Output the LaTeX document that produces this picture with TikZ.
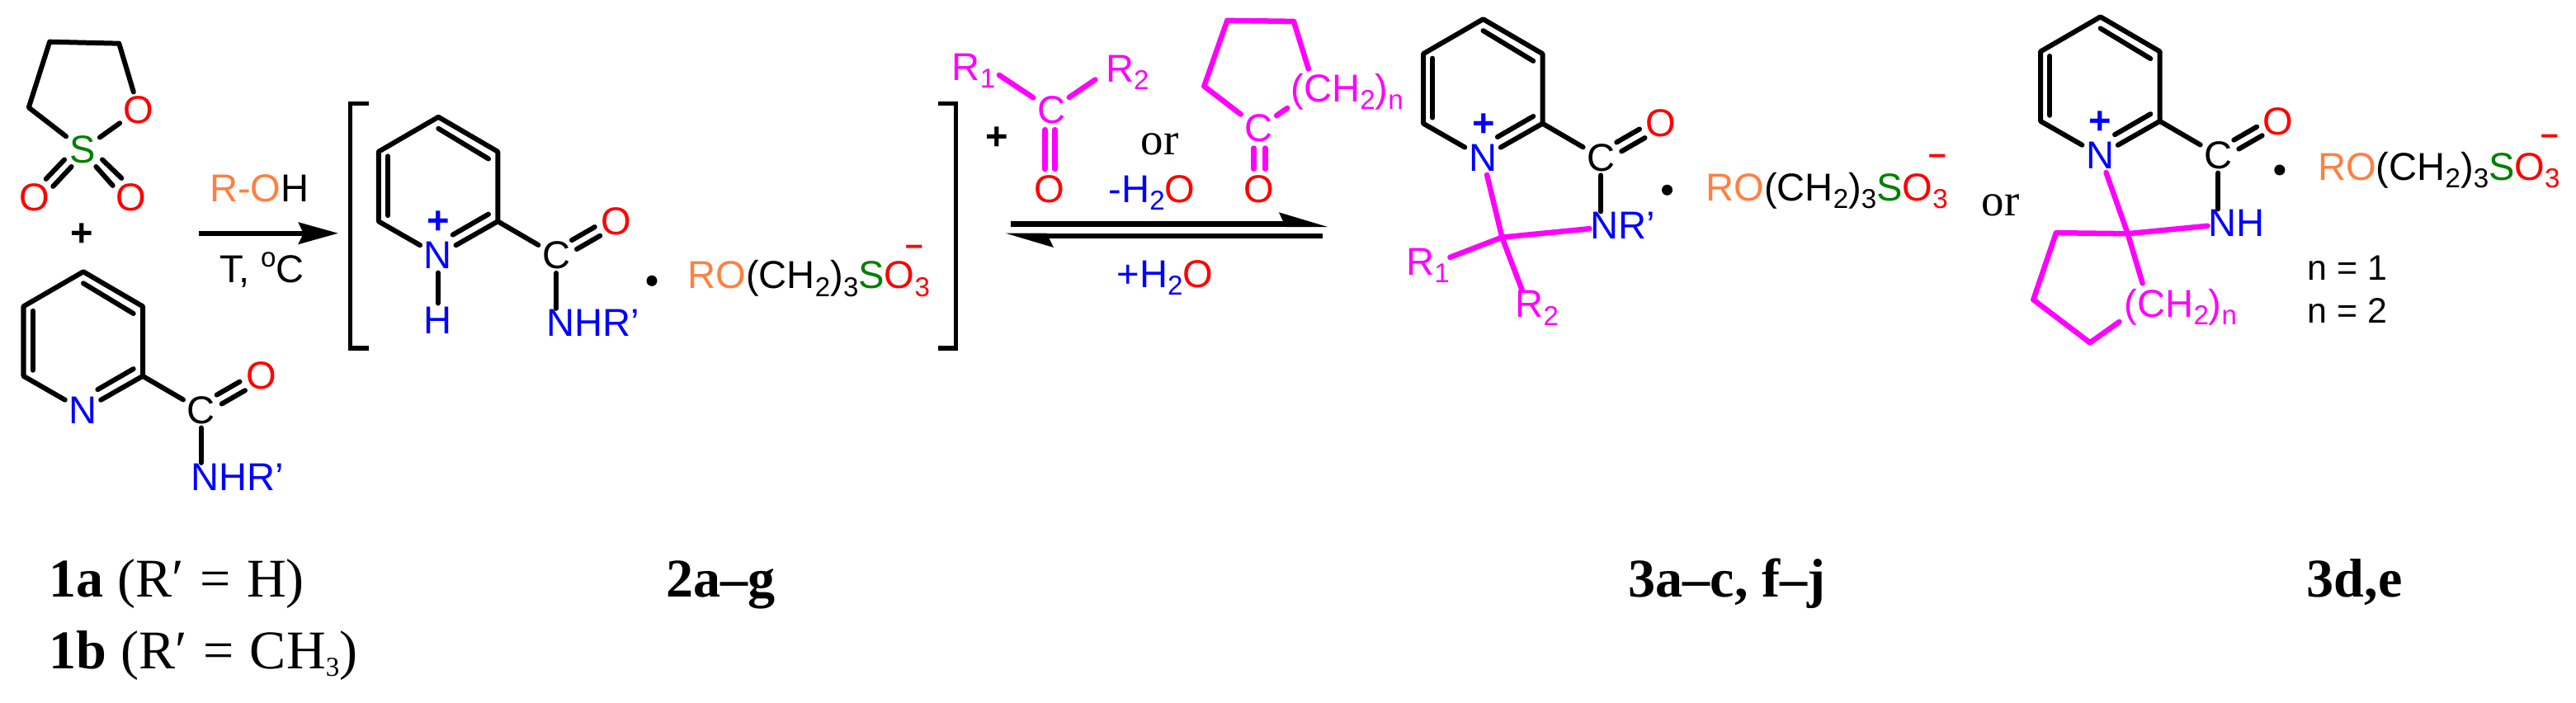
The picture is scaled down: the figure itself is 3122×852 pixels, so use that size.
\documentclass[tikz,border=0pt]{standalone}
\usepackage{fontspec}
\setmainfont{Liberation Sans}
\newfontfamily\capfont{Liberation Serif}
\usetikzlibrary{arrows.meta}
\definecolor{rorange}{RGB}{255,128,64}
\definecolor{sgreen}{RGB}{0,128,0}
\definecolor{rmagenta}{RGB}{255,0,255}
\definecolor{nblue}{RGB}{0,0,255}
\definecolor{ored}{RGB}{255,0,0}
\newcommand{\lowidx}[1]{\raisebox{-.09cm}{\fontsize{9.4}{10}\selectfont #1}}
\newcommand{\atomsize}{\fontsize{13.4}{16}\selectfont}
\newcommand{\anion}{\textcolor{rorange}{RO}(CH\lowidx{2})\lowidx{3}\textcolor{sgreen}{S}\textcolor{ored}{O\lowidx{3}}}
\tikzset{
	atom/.style={inner sep=.04cm},
	label/.style={inner sep=0pt, anchor=base west},
	bond/.style={line width=.06cm, line cap=round, line join=round},
	rbond/.style={bond, rmagenta, line width=.065cm},
	charge/.style={inner sep=0pt, font=\atomsize\bfseries},
	minus/.style={inner sep=0pt, ored, font=\fontsize{11}{12}\selectfont\bfseries},
	saltdot/.style={circle, fill, inner sep=0pt, minimum size=.13cm},
	sname/.style={inner sep=0pt, anchor=base west, font=\capfont\fontsize{18.8}{20}\selectfont},
	orword/.style={inner sep=0pt, anchor=base, font=\capfont\fontsize{15.6}{18}\selectfont},
	brack/.style={line width=.055cm},
	pics/pyamide/.style={code={
		\coordinate (-t) at (0,0);
		\coordinate (-ur) at (72,42);
		\coordinate (-lr) at (72,126.5);
		\coordinate (-ll) at (-72.5,126.5);
		\coordinate (-ul) at (-72.5,42);
		\node[atom, nblue] (-n) at (-.5,167.8) {N};
		\node[atom] (-c) at (142.8,167.8) {C};
		\node[atom, ored] (-o) at (215.4,126.4) {O};
		\coordinate (-a1) at (0,14);
		\coordinate (-b1) at (60.7,50.7);
		\coordinate (-a2) at (-61.2,47.5);
		\coordinate (-b2) at (-61.2,119.4);
		\coordinate (-a3) at (17.4,142.8);
		\coordinate (-b3) at (60.7,117.8);
		\coordinate (-o1) at (161.7,149.3);
		\coordinate (-o2) at (189.5,133.3);
		\coordinate (-o3) at (167.7,160.2);
		\coordinate (-o4) at (196,143.9);
		\draw[bond] (-n) -- (-ll) -- (-ul) -- (-t) -- (-ur) -- (-lr) -- (-n);
		\draw[bond] (-lr) -- (-c);
		\draw[bond] (-a1) -- (-b1);
		\draw[bond] (-a2) -- (-b2);
		\draw[bond] (-a3) -- (-b3);
		\draw[bond] (-o1) -- (-o2);
		\draw[bond] (-o3) -- (-o4);
	}}
}
\begin{document}
\begin{tikzpicture}[x=.01cm, y=-.01cm, font=\atomsize]
	\useasboundingbox (0,0) rectangle (3122,852);
	% sultone
	\coordinate (s1) at (60.2,50.7);
	\coordinate (s2) at (144.3,52.7);
	\coordinate (s3) at (34.8,130.3);
	\node[atom, ored] (so) at (168.2,132.8) {O};
	\node[atom, sgreen] (ss) at (100.5,181.1) {S};
	\node[atom, ored] (so1) at (42.3,238.8) {O};
	\node[atom, ored] (so2) at (159.2,238.8) {O};
	\draw[bond] (ss) -- (s3) -- (s1) -- (s2) -- (so);
	\draw[bond] (ss) -- (so);
	\coordinate (d1) at (78.1,193.5);
	\coordinate (d2) at (55.7,216.9);
	\coordinate (d3) at (86.6,202);
	\coordinate (d4) at (64.3,225.9);
	\coordinate (d5) at (124,193.5);
	\coordinate (d6) at (147.3,215.9);
	\coordinate (d7) at (116.4,202);
	\coordinate (d8) at (136.7,224.9);
	\draw[bond] (d1) -- (d2);
	\draw[bond] (d3) -- (d4);
	\draw[bond] (d5) -- (d6);
	\draw[bond] (d7) -- (d8);
	\node[charge] (plus1) at (99,284.6) {+};
	% rings
	\pic (r1) at (101,329.3) {pyamide};
	\pic (r2) at (531.3,141.8) {pyamide};
	\pic (r3) at (1797.5,23.2) {pyamide};
	\pic (r4) at (2545.6,20.4) {pyamide};
	\node[label, nblue] (r1nhr) at (230.8,594) {NHR'};
	\draw[bond] (r1-c) -- (r1-c |- r1nhr.north);
	\node[label, nblue] (r2nhr) at (661.7,407) {NHR'};
	\draw[bond] (r2-c) -- (r2-c |- r2nhr.north);
	\node[atom, nblue] (r2h) at (530.8,388.5) {H};
	\draw[bond] (r2-n) -- (r2h);
	\node[charge, nblue] (r2plus) at (531.3,270) {+};
	\node[charge, nblue] (r3plus) at (1798,151.2) {+};
	\node[charge, nblue] (r4plus) at (2545.6,148.6) {+};
	% first arrow
	\node[label, anchor=base] (roh) at (314.4,244.8) {\textcolor{rorange}{R-O}H};
	\node[label, anchor=base] (temp) at (317.4,342.9) {T, \raisebox{.19cm}{\fontsize{9.4}{10}\selectfont o}C};
	\coordinate (a1s) at (241,282.7);
	\coordinate (a1e) at (410,282.7);
	\draw[line width=.06cm, -{Stealth[length=.48cm, width=.26cm, inset=.06cm]}] (a1s) -- (a1e);
	% brackets
	\draw[brack] (446.5,125.7) -- (424.6,125.7) -- (424.6,421.8) -- (446.5,421.8);
	\draw[brack] (1136.8,125.7) -- (1158.5,125.7) -- (1158.5,421.8) -- (1136.8,421.8);
	\node[saltdot] (dot2) at (790,340.3) {};
	\node[label] (an2) at (832.8,350) {\anion};
	\node[minus] (min2) at (1108,303) {--};
	% ketone
	\node[charge] (plus2) at (1208,167.9) {+};
	\node[label, rmagenta] (kr1) at (1153.2,97.1) {R\lowidx{1}};
	\node[label, rmagenta] (kr2) at (1339.3,99.3) {R\lowidx{2}};
	\node[atom, rmagenta] (kc) at (1274,132.8) {C};
	\node[atom, ored] (ko) at (1271.6,229.6) {O};
	\coordinate (k1) at (1210.9,91);
	\coordinate (k2) at (1327.4,96.5);
	\coordinate (k3) at (1266.4,157.2);
	\coordinate (k4) at (1266.4,205);
	\coordinate (k5) at (1278.6,157.2);
	\coordinate (k6) at (1278.6,205);
	\draw[rbond] (k1) -- (kc);
	\draw[rbond] (k2) -- (kc);
	\draw[rbond] (k3) -- (k4);
	\draw[rbond] (k5) -- (k6);
	\node[orword] (or1) at (1405.7,187.5) {or};
	% cyclic ketone
	\coordinate (p1) at (1487.3,24.9);
	\coordinate (p2) at (1567.9,25.9);
	\coordinate (p3) at (1585.8,83.6);
	\coordinate (p4) at (1459.3,104.5);
	\node[atom, rmagenta] (pc) at (1525.4,155.2) {C};
	\node[atom, ored] (po) at (1526,228.9) {O};
	\node[label, rmagenta] (pch) at (1563.9,123.9) {(CH\lowidx{2})\lowidx{n}};
	\coordinate (p5) at (1560.2,131);
	\coordinate (p6) at (1519.4,179.6);
	\coordinate (p7) at (1519.4,204.7);
	\coordinate (p8) at (1533.3,179.6);
	\coordinate (p9) at (1533.3,204.7);
	\draw[rbond] (pc) -- (p4) -- (p1) -- (p2) -- (p3);
	\draw[rbond] (pc) -- (p5);
	\draw[rbond] (p6) -- (p7);
	\draw[rbond] (p8) -- (p9);
	% equilibrium
	\node[label, anchor=base] (loss) at (1396,245.8) {\textcolor{nblue}{-H\lowidx{2}}\textcolor{ored}{O}};
	\node[label, anchor=base] (gain) at (1411.9,348.3) {\textcolor{nblue}{+H\lowidx{2}}\textcolor{ored}{O}};
	\coordinate (e1s) at (1225.4,271.5);
	\coordinate (e1e) at (1610,271.5);
	\coordinate (e2s) at (1603,285.8);
	\coordinate (e2e) at (1218,285.8);
	\draw[line width=.07cm, -{Stealth[harpoon, length=.47cm, width=.27cm, inset=.06cm]}] (e1s) -- (e1e);
	\draw[line width=.063cm, -{Stealth[harpoon, length=.47cm, width=.27cm, inset=.06cm]}] (e2s) -- (e2e);
	% product 3a
	\coordinate (q3) at (1820.4,287.6);
	\node[label, nblue] (nr3) at (1926.4,289.5) {NR'};
	\node[label, rmagenta] (r31) at (1703.5,333.9) {R\lowidx{1}};
	\node[label, rmagenta] (r32) at (1835.8,385) {R\lowidx{2}};
	\draw[bond] (r3-c) -- (r3-c |- nr3.north);
	\draw[rbond] (r3-n) -- (q3);
	\draw[rbond] (q3) -- (nr3);
	\draw[rbond] (q3) -- (r31);
	\draw[rbond] (q3) -- (r32.130);
	\node[saltdot] (dot3) at (2020.5,230.3) {};
	\node[label] (an3) at (2066.7,243.6) {\anion};
	\node[minus] (min3) at (2348,193) {--};
	\node[orword] (or2) at (2424.5,261.7) {or};
	% product 3d
	\coordinate (q4) at (2578.7,283.2);
	\coordinate (c1) at (2491.9,282.2);
	\coordinate (c2) at (2464.3,363.2);
	\coordinate (c3) at (2532.9,415.3);
	\coordinate (c4) at (2568.5,390);
	\coordinate (c5) at (2596.6,343.3);
	\node[label, nblue] (nh4) at (2675.6,286.6) {NH};
	\node[label, rmagenta] (ch4) at (2574.1,384) {(CH\lowidx{2})\lowidx{n}};
	\draw[bond] (r4-c) -- (r4-c |- nh4.north);
	\draw[rbond] (r4-n) -- (q4);
	\draw[rbond] (q4) -- (nh4);
	\draw[rbond] (q4) -- (c5);
	\draw[rbond] (q4) -- (c1) -- (c2) -- (c3) -- (c4);
	\node[saltdot] (dot4) at (2762.8,206) {};
	\node[label] (an4) at (2808.5,218.6) {\anion};
	\node[minus] (min4) at (3090,169) {--};
	\node[label, font=\fontsize{12.2}{14}\selectfont] (n1) at (2796.1,340) {n = 1};
	\node[label, font=\fontsize{12.2}{14}\selectfont] (n2) at (2796.1,392) {n = 2};
	% compound names
	\node[sname] (c1a) at (59,723) {\textbf{1a} (R′\hspace{.03cm} = \hspace{.03cm}H)};
	\node[sname] (c1b) at (59,810) {\textbf{1b} (R′\hspace{.03cm} = \hspace{.03cm}CH\lowidx{3})};
	\node[sname] (c2a) at (807,723) {\textbf{2a–g}};
	\node[sname] (c3a) at (1973,723) {\textbf{3a–c, f–j}};
	\node[sname] (c3d) at (2795,723) {\textbf{3d,e}};
\end{tikzpicture}
\end{document}
